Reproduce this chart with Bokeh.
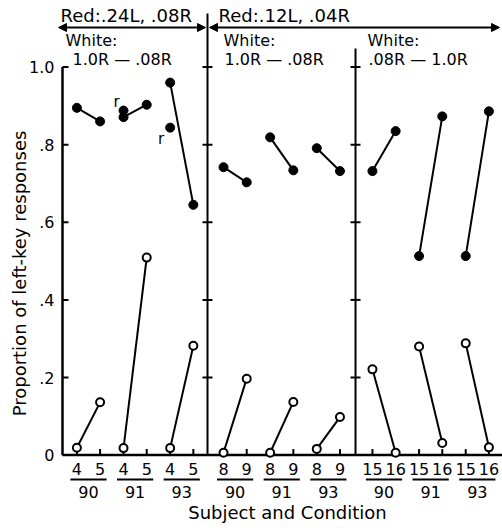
import math
from bokeh.plotting import figure
from bokeh.models import Range1d, Arrow, NormalHead
from bokeh.core.properties import value
from bokeh.embed import file_html
from bokeh.resources import INLINE

# ---------------- data ----------------
subjects = ["90", "91", "93"]
conditions = [["4", "5"], ["8", "9"], ["15", "16"]]
red_labels = ["Red:.24L, .08R", "Red:.12L, .04R"]
white_title = "White:"
white_labels = ["1.0R — .08R", "1.0R — .08R", ".08R — 1.0R"]
y_ticks = [0, 0.2, 0.4, 0.6, 0.8, 1.0]
y_tick_labels = ["0", ".2", ".4", ".6", ".8", "1.0"]
y_title = "Proportion of left-key responses"
x_title = "Subject and Condition"

# white-key trials (filled circles): [panel][subject] -> [first cond, second cond]
white_panel1 = [[0.895, 0.860], [0.871, 0.903], [0.960, 0.645]]
white_panel2 = [[0.742, 0.703], [0.819, 0.734], [0.791, 0.732]]
white_panel3 = [[0.732, 0.835], [0.513, 0.873], [0.513, 0.886]]
# red-key trials (open circles)
red_panel1 = [[0.019, 0.136], [0.018, 0.509], [0.018, 0.282]]
red_panel2 = [[0.006, 0.197], [0.006, 0.137], [0.016, 0.098]]
red_panel3 = [[0.221, 0.006], [0.280, 0.031], [0.288, 0.020]]
# replication points ("r"), panel 1, first condition
repl_subject_index = [1, 2]
repl_values = [0.888, 0.844]
repl_label = "r"

white = [white_panel1, white_panel2, white_panel3]
red = [red_panel1, red_panel2, red_panel3]

# ---------------- layout ----------------
W, H = 502, 528
AX_L, AX_B = 62.0, 454.6
PX_U, PX_V = 23.2, 388.0

def X(px):
    return (px - AX_L) / PX_U

def Y(py):
    return (AX_B - py) / PX_V

panel_first = [0.62, 6.94, 13.36]
group_step = 2.01
cond_step = 1.0
dividers = [6.25, 12.63]
divider_tops = [13, 48]
FONT = value("DejaVu Sans")

def xpos(p, g, c):
    return panel_first[p] + g * group_step + c * cond_step

p = figure(width=W, height=H, x_range=Range1d(X(0), X(W)), y_range=Range1d(Y(H), Y(0)),
           output_backend="svg", toolbar_location=None, min_border=0,
           x_axis_type=None, y_axis_type=None)
p.grid.visible = False
p.outline_line_color = None
p.background_fill_color = "white"

# axes
p.segment(x0=[0], y0=[0], x1=[0], y1=[1.0], line_width=2.5, line_color="black")
p.segment(x0=[0], y0=[0], x1=[X(W)], y1=[0], line_width=2.5, line_color="black")
p.segment(x0=[0] * len(y_ticks), y0=y_ticks, x1=[X(AX_L + 6)] * len(y_ticks), y1=y_ticks,
          line_width=2, line_color="black")
p.text(x=[X(54)] * len(y_ticks), y=y_ticks, text=y_tick_labels, text_font=FONT,
       text_font_size="16px", text_align="right", text_baseline="middle", text_color="black")
p.text(x=[X(19)], y=[Y(273)], text=[y_title], angle=math.pi / 2, text_font=FONT,
       text_font_size="18px", text_align="center", text_baseline="middle", text_color="black")

# dividers
for d, top in zip(dividers, divider_tops):
    p.segment(x0=[d], y0=[0], x1=[d], y1=[Y(top)], line_width=2, line_color="black")
    tk = y_ticks[1:]
    p.segment(x0=[d - 5 / PX_U] * len(tk), y0=tk, x1=[d + 5 / PX_U] * len(tk), y1=tk,
              line_width=2, line_color="black")

# bottom ticks, labels
tick_x, tick_lab = [], []
for pi_ in range(3):
    for g in range(3):
        for c in range(2):
            tick_x.append(xpos(pi_, g, c))
            tick_lab.append(conditions[pi_][c])
p.segment(x0=tick_x, y0=[0] * len(tick_x), x1=tick_x, y1=[6 / PX_V] * len(tick_x),
          line_width=2, line_color="black")
p.text(x=tick_x, y=[Y(468)] * len(tick_x), text=tick_lab, text_font=FONT, text_font_size="16px",
       text_align="center", text_baseline="middle", text_color="black")

gx, glab = [], []
for pi_ in range(3):
    for g in range(3):
        gx.append(xpos(pi_, g, 0) + cond_step / 2)
        glab.append(subjects[g])
p.segment(x0=[v - 0.78 for v in gx], y0=[Y(479)] * len(gx), x1=[v + 0.78 for v in gx],
          y1=[Y(479)] * len(gx), line_width=1.8, line_color="black")
p.text(x=gx, y=[Y(491)] * len(gx), text=glab, text_font=FONT, text_font_size="16px",
       text_align="center", text_baseline="middle", text_color="black")
p.text(x=[X(287)], y=[Y(512)], text=[x_title], text_font=FONT, text_font_size="18px",
       text_align="center", text_baseline="middle", text_color="black")

# top annotations
p.text(x=[X(60), X(218)], y=[Y(15)] * 2, text=red_labels, text_font=FONT, text_font_size="18px",
       text_align="left", text_baseline="middle", text_color="black")
for xs, xe in [(X(58), X(205)), (X(209), X(499))]:
    p.add_layout(Arrow(x_start=xs, y_start=Y(27), x_end=xe, y_end=Y(27), line_width=2,
                       start=NormalHead(size=8, fill_color="black", line_color="black"),
                       end=NormalHead(size=8, fill_color="black", line_color="black")))
p.text(x=[X(65), X(223), X(367)], y=[Y(40)] * 3, text=[white_title] * 3, text_font=FONT,
       text_font_size="16px", text_align="left", text_baseline="middle", text_color="black")
p.text(x=[X(72), X(224), X(368)], y=[Y(59)] * 3, text=white_labels, text_font=FONT,
       text_font_size="16px", text_align="left", text_baseline="middle", text_color="black")

# data
lx, ly = [], []
wx, wy, rx, ry = [], [], [], []
for pi_ in range(3):
    for g in range(3):
        xs = [xpos(pi_, g, 0), xpos(pi_, g, 1)]
        lx.append(xs); ly.append(white[pi_][g])
        lx.append(xs); ly.append(red[pi_][g])
        wx += xs; wy += white[pi_][g]
        rx += xs; ry += red[pi_][g]
p.multi_line(xs=lx, ys=ly, line_width=2, line_color="black")
p.scatter(x=wx, y=wy, marker="circle", size=9, fill_color="black", line_color="black")
p.scatter(x=rx, y=ry, marker="circle", size=8, fill_color="white", line_color="black", line_width=2)

repx = [xpos(0, g, 0) for g in repl_subject_index]
p.scatter(x=repx, y=repl_values, marker="circle", size=9, fill_color="black", line_color="black")
p.text(x=repx, y=repl_values, text=[repl_label] * 2, x_offset=[-7, -9], y_offset=[-9, 11],
       text_font=FONT, text_font_size="15px", text_align="center", text_baseline="middle",
       text_color="black")

open("out.html", "w").write(file_html(p, INLINE))
